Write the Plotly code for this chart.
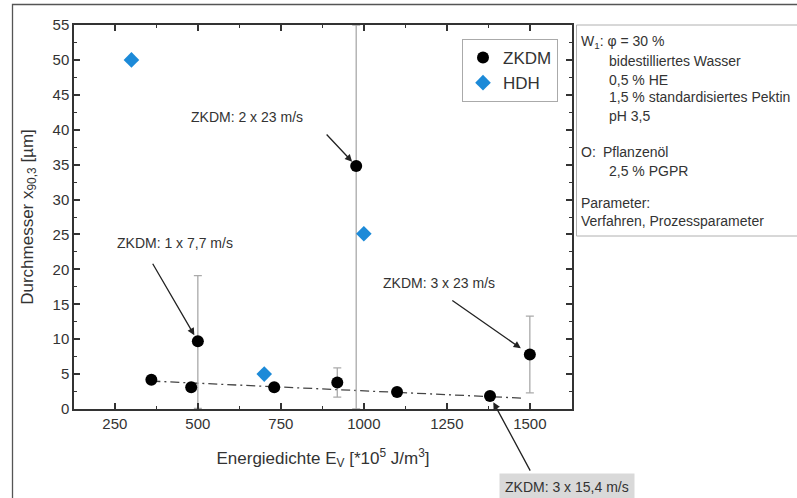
import plotly.graph_objects as go

# ---- data ----
zkdm_x = [360, 480, 500, 730, 920, 977, 1100, 1380, 1500]
zkdm_y = [4.2, 3.1, 9.7, 3.1, 3.8, 34.8, 2.45, 1.85, 7.8]
zkdm_err_plus = [0, 0, 9.4, 0, 2.1, 20.2, 0, 0, 5.5]
zkdm_err_minus = [0, 0, 9.6, 0, 2.1, 34.8, 0, 0, 5.5]

hdh_x = [300, 700, 1000]
hdh_y = [50, 5.0, 25.1]

fit_x = [360, 1480]
fit_y = [4.0, 1.55]

x_ticks = [250, 500, 750, 1000, 1250, 1500]
y_ticks = [0, 5, 10, 15, 20, 25, 30, 35, 40, 45, 50, 55]

FONT = "Liberation Sans, Arial, sans-serif"
TXT = "#333333"

fig = go.Figure()

fig.add_trace(go.Scatter(
    x=fit_x, y=fit_y, mode="lines",
    line=dict(color="#444444", width=1.3, dash="9px,4px,2px,4px"),
    showlegend=False, hoverinfo="skip"))

fig.add_trace(go.Scatter(
    x=zkdm_x, y=zkdm_y, mode="markers", name="ZKDM",
    marker=dict(symbol="circle", size=12, color="black"),
    error_y=dict(type="data", symmetric=False, array=zkdm_err_plus,
                 arrayminus=zkdm_err_minus, color="#aaaaaa",
                 thickness=1.3, width=4)))

fig.add_trace(go.Scatter(
    x=hdh_x, y=hdh_y, mode="markers", name="HDH",
    marker=dict(symbol="diamond", size=12, color="#1c8ad8")))

# ---- annotations (text) ----
ann = []
def txt(x, y, s, xref="x", yref="y", xanchor="center", size=14, **kw):
    ann.append(dict(x=x, y=y, xref=xref, yref=yref, text=s, showarrow=False,
                    xanchor=xanchor, yanchor="middle",
                    font=dict(family=FONT, size=size, color=TXT), **kw))

txt(649, 41.8, "ZKDM: 2 x 23 m/s")
txt(432, 23.8, "ZKDM: 1 x 7,7 m/s")
txt(1226, 18.0, "ZKDM: 3 x 23 m/s")

# arrows
def arrow(x, y, ax, ay, standoff):
    ann.append(dict(x=x, y=y, xref="x", yref="y", ax=ax, ay=ay, text="",
                    showarrow=True, arrowhead=2, arrowsize=1.1, arrowwidth=1.3,
                    arrowcolor="#222222", standoff=standoff))

arrow(977, 34.8, -31, -33, 6)
arrow(500, 9.7, -46, -79, 7)
arrow(1500, 7.8, -79, -55, 11)
arrow(1380, 1.85, 41, 76, 7)

# bottom gray box annotation
ann.append(dict(x=(567 - 74) / 498, y=(409 - 487) / 384, xref="paper", yref="paper",
                text="ZKDM: 3 x 15,4 m/s", showarrow=False, xanchor="center",
                yanchor="middle", bgcolor="#d9d9d9", borderpad=5,
                font=dict(family=FONT, size=14, color=TXT)))

# right side info box texts (pixel -> paper)
def px(xp):
    return (xp - 74) / 498
def py(yp):
    return (409 - yp) / 384

txt(px(579), py(42), "W<sub>1</sub>: φ = 30 %", xref="paper", yref="paper", xanchor="left")
txt(px(607), py(61), "bidestilliertes Wasser", xref="paper", yref="paper", xanchor="left")
txt(px(607), py(80), "0,5 % HE", xref="paper", yref="paper", xanchor="left")
txt(px(607), py(97), "1,5 % standardisiertes Pektin", xref="paper", yref="paper", xanchor="left")
txt(px(607), py(116), "pH 3,5", xref="paper", yref="paper", xanchor="left")
txt(px(579), py(152), "O:", xref="paper", yref="paper", xanchor="left")
txt(px(601), py(152), "Pflanzenöl", xref="paper", yref="paper", xanchor="left")
txt(px(607), py(171), "2,5 % PGPR", xref="paper", yref="paper", xanchor="left")
txt(px(579), py(203), "Parameter:", xref="paper", yref="paper", xanchor="left")
txt(px(579), py(221), "Verfahren, Prozessparameter", xref="paper", yref="paper", xanchor="left")

shapes = [
    # info box
    dict(type="rect", xref="paper", yref="paper", x0=px(576.5), x1=px(830),
         y0=py(236), y1=py(25), line=dict(color="#b0b0b0", width=1)),
    # outer frame
    dict(type="rect", xref="paper", yref="paper", x0=px(12.5), x1=px(840),
         y0=py(540), y1=py(4.5), line=dict(color="#555555", width=1.3)),
]

axis_common = dict(
    showline=True, linecolor="#333333", linewidth=1.5, mirror="ticks",
    ticks="inside", ticklen=6, tickwidth=1.5, tickcolor="#333333",
    showgrid=False, zeroline=False,
    tickfont=dict(family=FONT, size=15, color=TXT),
)

fig.update_layout(
    width=797, height=498,
    margin=dict(l=74, r=225, t=25, b=89),
    paper_bgcolor="white", plot_bgcolor="white",
    font=dict(family=FONT, color=TXT),
    xaxis=dict(range=[127, 1627], tickvals=x_ticks,
               minor=dict(dtick=125, tick0=0, ticks="inside", ticklen=3,
                          tickwidth=1.3, tickcolor="#333333"),
               title=dict(text="Energiedichte E<sub>V</sub> [*10<sup>5</sup> J/m<sup>3</sup>]",
                          font=dict(family=FONT, size=17, color=TXT), standoff=21),
               **axis_common),
    yaxis=dict(range=[0, 55], tickvals=y_ticks,
               minor=dict(dtick=2.5, tick0=0, ticks="inside", ticklen=3,
                          tickwidth=1.3, tickcolor="#333333"),
               title=dict(text="Durchmesser x<sub>90,3</sub> [µm]",
                          font=dict(family=FONT, size=17, color=TXT), standoff=15),
               **axis_common),
    legend=dict(x=px(462), y=py(39), xanchor="left", yanchor="top",
                bordercolor="#aaaaaa", borderwidth=1, bgcolor="white",
                font=dict(family=FONT, size=17, color=TXT),
                itemsizing="constant", tracegroupgap=0),
    annotations=ann,
    shapes=shapes,
)

fig.write_html("out.html")
